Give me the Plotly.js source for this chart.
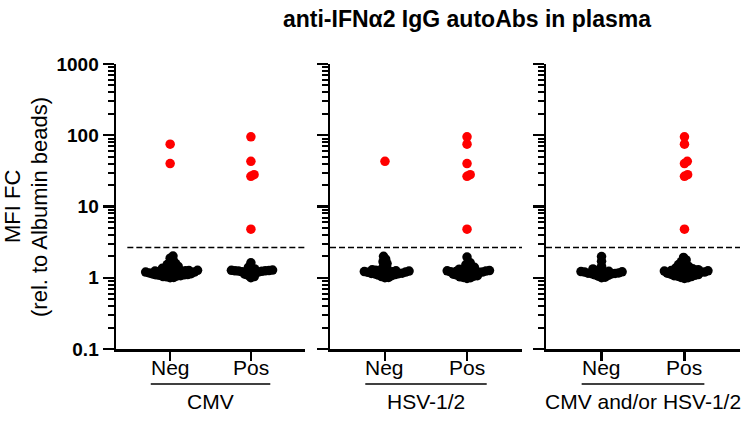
<!DOCTYPE html>
<html>
<head>
<meta charset="utf-8">
<script src="https://cdn.plot.ly/plotly-3.0.1.min.js"></script>
<style>html,body{margin:0;padding:0;background:#fff;}#chart{width:750px;height:421px;}</style>
</head>
<body>
<div id="chart"></div>
<script>
// ---- data ----
const categories = ['Neg', 'Pos'];
const groups = ['CMV', 'HSV-1/2', 'CMV and/or HSV-1/2'];
const threshold = 2.65;
const yTickVals = [0.1, 1, 10, 100, 1000];
const yTickText = ['0.1', '1', '10', '100', '1000'];

const cmvNegBlack = [1.00,1.01,1.03,1.04,1.06,1.07,1.08,1.10,1.10,1.11,1.12,1.13,1.14,1.15,1.16,1.17,1.18,1.19,1.20,1.20,1.21,1.22,1.23,1.24,1.25,1.26,1.27,1.29,1.31,1.33,1.36,1.40,1.44,1.48,1.53,1.58,1.65,1.75,1.88,2.02];
const cmvNegRed = [75, 40];
const cmvPosBlack = [1.00,1.04,1.08,1.12,1.15,1.18,1.20,1.21,1.22,1.23,1.24,1.25,1.25,1.26,1.27,1.28,1.30,1.33,1.40,1.62];
const cmvPosRed = [95, 43, 28, 26.5, 4.8];

const hsvNegBlack = [1.00,1.01,1.04,1.07,1.09,1.11,1.12,1.13,1.14,1.15,1.16,1.17,1.18,1.19,1.20,1.21,1.22,1.23,1.24,1.25,1.26,1.27,1.29,1.33,1.40,1.50,1.58,1.68,1.82,2.00];
const hsvNegRed = [43];
const hsvPosBlack = [0.98,1.00,1.01,1.03,1.05,1.07,1.09,1.10,1.12,1.13,1.15,1.16,1.18,1.19,1.20,1.21,1.22,1.23,1.24,1.25,1.26,1.28,1.30,1.32,1.35,1.40,1.45,1.52,1.62,1.95];
const hsvPosRed = [95, 75, 40, 28, 26.5, 4.8];

const combNegBlack = [1.00,1.02,1.05,1.08,1.10,1.12,1.13,1.14,1.15,1.16,1.17,1.18,1.19,1.20,1.21,1.22,1.23,1.25,1.27,1.33,1.45,1.70,1.98];
const combNegRed = [];
const combPosBlack = [0.98,1.00,1.01,1.04,1.05,1.07,1.08,1.10,1.11,1.12,1.13,1.15,1.16,1.17,1.18,1.20,1.20,1.21,1.22,1.23,1.24,1.25,1.26,1.28,1.29,1.30,1.32,1.34,1.37,1.40,1.44,1.48,1.53,1.60,1.68,1.78,1.93];
const combPosRed = [95, 75, 43, 40, 28, 26.5, 4.8];

const panelData = [
  [[cmvNegBlack, cmvNegRed], [cmvPosBlack, cmvPosRed]],
  [[hsvNegBlack, hsvNegRed], [hsvPosBlack, hsvPosRed]],
  [[combNegBlack, combNegRed], [combPosBlack, combPosRed]]
];

// ---- layout geometry ----
const W = 750, H = 421;
const xDomains = [[0.1547, 0.4067], [0.44, 0.696], [0.728, 0.9867]];
const xRange = [-0.67, 1.67];
const yDomain = [0.171, 0.848];
const yRange = [-1, 3];
const dashStarts = [-0.53, -0.67, -0.67];

const pxPerDecade = (yDomain[1] - yDomain[0]) * H / (yRange[1] - yRange[0]);

// beeswarm offsets (pixels) computed from values
function swarm(vals, d) {
  const pts = vals.map((v, i) => ({i, y: Math.log10(v) * pxPerDecade}));
  pts.sort((a, b) => a.y - b.y);
  const placed = [];
  const out = new Array(vals.length).fill(0);
  for (const p of pts) {
    const cands = [0];
    for (const q of placed) {
      const dy = Math.abs(q.y - p.y);
      if (dy < d) {
        const dx = Math.sqrt(d * d - dy * dy);
        cands.push(q.x + dx, q.x - dx);
      }
    }
    cands.sort((a, b) => Math.abs(a) - Math.abs(b));
    let chosen = 0;
    for (const c of cands) {
      let ok = true;
      for (const q of placed) {
        const dx = q.x - c, dy = q.y - p.y;
        if (dx * dx + dy * dy < d * d - 0.01) { ok = false; break; }
      }
      if (ok) { chosen = c; break; }
    }
    p.x = chosen;
    placed.push(p);
    out[p.i] = chosen;
  }
  return out;
}

const traces = [];
const shapes = [];
const annotations = [];
const layout = {
  width: W, height: H,
  margin: {l: 0, r: 0, t: 0, b: 0},
  paper_bgcolor: '#fff', plot_bgcolor: '#fff',
  showlegend: false,
  font: {family: 'Liberation Sans, Arial, sans-serif', color: '#000'},
  title: {
    text: 'anti-IFNα2 IgG autoAbs in plasma',
    font: {size: 23, weight: 'bold', color: '#000', family: 'Liberation Sans, Arial, sans-serif'},
    x: 467 / W, xanchor: 'center', xref: 'paper',
    y: 1 - 19 / H, yanchor: 'middle', yref: 'container'
  }
};

const minorVals = [];
for (let e = -1; e < 3; e++) for (let k = 2; k <= 9; k++) minorVals.push(k * Math.pow(10, e));

for (let p = 0; p < 3; p++) {
  const sfx = p === 0 ? '' : String(p + 1);
  const pxPerUnitX = (xDomains[p][1] - xDomains[p][0]) * W / (xRange[1] - xRange[0]);
  for (let c = 0; c < 2; c++) {
    const black = panelData[p][c][0], red = panelData[p][c][1];
    const all = black.concat(red);
    const off = swarm(all, 3.6);
    const xs = all.map((v, i) => c + off[i] / pxPerUnitX);
    const cols = all.map((v, i) => i < black.length ? '#000000' : '#ff0000');
    traces.push({
      type: 'scatter', mode: 'markers',
      x: xs, y: all,
      xaxis: 'x' + sfx, yaxis: 'y' + sfx,
      marker: {size: 9.5, color: cols, line: {width: 0}},
      hoverinfo: 'skip'
    });
    // category label (Neg / Pos)
    annotations.push({
      text: categories[c], xref: 'x' + sfx, yref: 'paper',
      x: c, y: (H - 367) / H, xanchor: 'center', yanchor: 'middle',
      showarrow: false, font: {size: 21, color: '#000'}
    });
  }
  layout['xaxis' + sfx] = {
    domain: xDomains[p], range: xRange, anchor: 'y' + sfx,
    tickmode: 'array', tickvals: [0, 1], ticktext: ['', ''],
    ticks: 'outside', ticklen: 9, tickwidth: 2.5, tickcolor: '#000',
    showline: true, linewidth: 2.5, linecolor: '#000',
    showgrid: false, zeroline: false, fixedrange: true
  };
  layout['yaxis' + sfx] = {
    domain: yDomain, type: 'log', range: yRange, anchor: 'x' + sfx,
    tickmode: 'array', tickvals: yTickVals, ticktext: yTickText,
    ticks: 'outside', ticklen: 11, tickwidth: 2.5, tickcolor: '#000',
    showticklabels: p === 0,
    tickfont: {size: 19, weight: 'bold', color: '#000'},
    minor: {tickmode: 'array', tickvals: minorVals, ticks: 'outside', ticklen: 6, tickwidth: 2, tickcolor: '#000', showgrid: false},
    showline: true, linewidth: 2.5, linecolor: '#000',
    showgrid: false, zeroline: false, fixedrange: true
  };
  // threshold dashed line
  shapes.push({
    type: 'line', xref: 'x' + sfx, yref: 'y' + sfx,
    x0: dashStarts[p], x1: xRange[1], y0: threshold, y1: threshold,
    line: {color: '#000', width: 1.5, dash: '6px,3px'}
  });
  // group underline
  shapes.push({
    type: 'line', xref: 'x' + sfx, yref: 'paper',
    x0: -0.24, x1: 1.24, y0: (H - 384) / H, y1: (H - 384) / H,
    line: {color: '#000', width: 1.5}
  });
  annotations.push({
    text: groups[p], xref: 'x' + sfx, yref: 'paper',
    x: 0.5, y: (H - 401) / H, xanchor: 'center', yanchor: 'middle',
    showarrow: false, font: {size: 21, color: '#000'}
  });
}

annotations.push({
  text: 'MFI FC', xref: 'paper', yref: 'paper', x: 12 / W, y: (H - 207) / H,
  xanchor: 'center', yanchor: 'middle', textangle: -90, showarrow: false,
  font: {size: 22, color: '#000'}
});
annotations.push({
  text: '(rel. to Albumin beads)', xref: 'paper', yref: 'paper', x: 39 / W, y: (H - 207) / H,
  xanchor: 'center', yanchor: 'middle', textangle: -90, showarrow: false,
  font: {size: 22, color: '#000'}
});

layout.shapes = shapes;
layout.annotations = annotations;

Plotly.newPlot('chart', traces, layout, {displayModeBar: false, staticPlot: true});
</script>
</body>
</html>
